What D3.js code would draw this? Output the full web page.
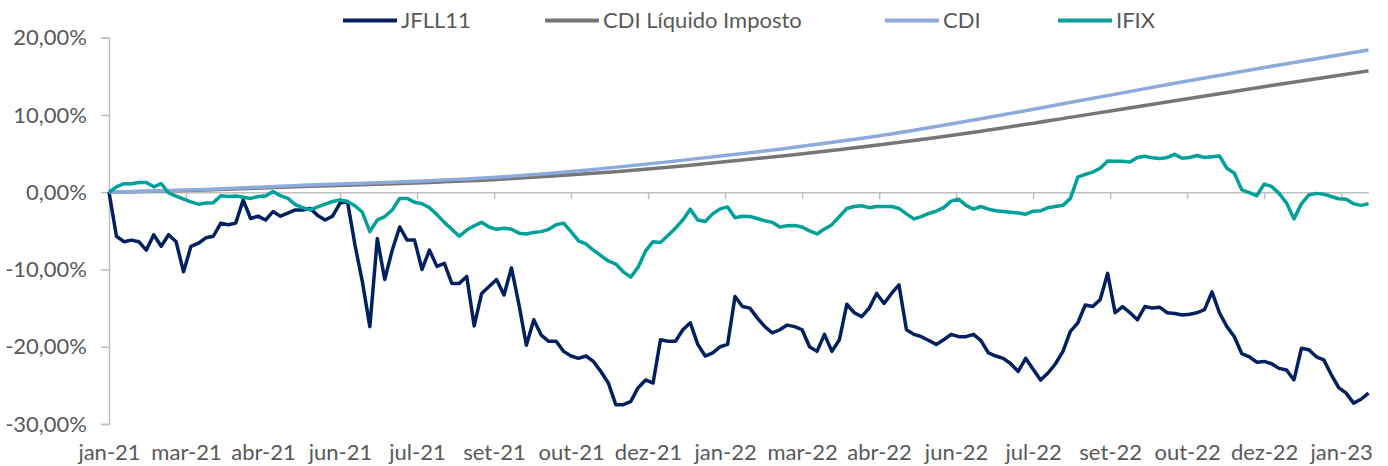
<!DOCTYPE html>
<html>
<head>
<meta charset="utf-8">
<script src="https://cdn.jsdelivr.net/npm/d3@7"></script>
<style>
  body { margin: 0; background: #fff; }
  svg { display: block; font-family: Lato, "Open Sans", sans-serif; }
</style>
</head>
<body>
<svg id="chart" width="1388" height="466"></svg>
<script>
// series names, in legend order
var seriesNames = ["JFLL11", "CDI Líquido Imposto", "CDI", "IFIX"];

// x axis labels, one every 31 trading days
var tickLabels = ["jan-21", "mar-21", "abr-21", "jun-21", "jul-21", "set-21", "out-21", "dez-21",
  "jan-22", "mar-22", "abr-22", "jun-22", "jul-22", "set-22", "out-22", "dez-22", "jan-23"];
var tickStep = 31;

// JFLL11 accumulated return (%), one value every 3 trading days
var jfllStep = 3;
var jfll11 = [
  0, -5.7, -6.4, -6.2, -6.4, -7.5, -5.5, -7.0, -5.5, -6.4,
  -10.3, -7.0, -6.6, -5.9, -5.7, -4.0, -4.2, -4.0, -1.0, -3.4,
  -3.1, -3.6, -2.5, -3.1, -2.7, -2.3, -2.3, -2.1, -3.0, -3.6,
  -3.1, -1.4, -1.2, -6.8, -11.6, -17.4, -6.0, -11.3, -7.5, -4.5,
  -6.2, -6.2, -10.0, -7.5, -9.6, -9.2, -11.8, -11.8, -10.9, -17.3,
  -13.1, -12.2, -11.3, -13.3, -9.8, -14.5, -19.8, -16.5, -18.5, -19.3,
  -19.3, -20.6, -21.2, -21.5, -21.2, -21.9, -23.2, -24.7, -27.5, -27.5,
  -27.1, -25.3, -24.3, -24.7, -19.1, -19.3, -19.3, -17.8, -16.9, -19.7,
  -21.2, -20.8, -20.0, -19.7, -13.5, -14.8, -15.0, -16.3, -17.4, -18.2,
  -17.8, -17.2, -17.4, -17.8, -20.0, -20.6, -18.4, -20.6, -19.1, -14.5,
  -15.6, -16.1, -15.0, -13.1, -14.4, -13.1, -12.0, -17.8, -18.4, -18.7,
  -19.2, -19.7, -19.1, -18.4, -18.7, -18.7, -18.4, -19.2, -20.8, -21.2,
  -21.5, -22.2, -23.2, -21.5, -22.9, -24.3, -23.4, -22.2, -20.6, -18.0,
  -16.9, -14.6, -14.8, -13.9, -10.5, -15.6, -14.8, -15.6, -16.5, -14.8,
  -15.0, -14.9, -15.6, -15.7, -15.9, -15.8, -15.6, -15.2, -12.9, -15.6,
  -17.4, -18.7, -20.9, -21.3, -22.0, -21.9, -22.2, -22.8, -23.0, -24.3,
  -20.2, -20.4, -21.3, -21.7, -23.6, -25.3, -26.0, -27.3, -26.8, -26.0
];

// IFIX accumulated return (%), same spacing
var ifixStep = 3;
var ifix = [
  0, 0.7, 1.1, 1.1, 1.25, 1.25, 0.7, 1.1, -0.1, -0.5,
  -0.9, -1.25, -1.55, -1.4, -1.35, -0.45, -0.55, -0.5, -0.65, -0.8,
  -0.55, -0.5, 0.1, -0.45, -0.8, -1.6, -2.0, -2.3, -1.9, -1.55,
  -1.2, -1.0, -1.2, -1.75, -2.6, -5.1, -3.6, -3.15, -2.3, -0.8,
  -0.8, -1.3, -1.5, -2.0, -2.9, -3.9, -4.8, -5.7, -4.9, -4.35,
  -3.9, -4.5, -4.8, -4.65, -4.8, -5.3, -5.4, -5.2, -5.1, -4.8,
  -4.2, -4.0, -5.1, -6.3, -6.7, -7.5, -8.2, -8.9, -9.3, -10.3,
  -11.0, -9.7, -7.6, -6.4, -6.5, -5.6, -4.65, -3.6, -2.2, -3.6,
  -3.8, -2.8, -2.15, -1.9, -3.3, -3.1, -3.15, -3.4, -3.7, -3.9,
  -4.5, -4.35, -4.3, -4.5, -5.0, -5.4, -4.75, -4.2, -3.15, -2.1,
  -1.85, -1.75, -2.0, -1.85, -1.85, -1.85, -2.1, -2.8, -3.45, -3.15,
  -2.75, -2.45, -2.0, -1.15, -0.9, -1.7, -2.2, -1.85, -2.2, -2.4,
  -2.5, -2.6, -2.7, -2.85, -2.45, -2.4, -2.0, -1.85, -1.7, -0.8,
  1.95, 2.3, 2.6, 3.1, 4.05, 4.0, 4.0, 3.9, 4.5, 4.65,
  4.45, 4.35, 4.5, 4.9, 4.4, 4.5, 4.75, 4.5, 4.6, 4.7,
  3.1, 2.45, 0.3, -0.05, -0.45, 1.05, 0.75, -0.15, -1.4, -3.45,
  -1.5, -0.35, -0.15, -0.25, -0.55, -0.85, -0.9, -1.5, -1.7, -1.5
];

// CDI and CDI net of tax (%), one value every 39 trading days
var cdiStep = 39;
var cdi = [0, 0.35, 0.9, 1.33, 1.95, 2.95, 4.25, 5.7, 7.4, 9.5, 11.8, 14.1, 16.3, 18.4];
var cdiLiquido = [0, 0.3, 0.75, 1.13, 1.65, 2.45, 3.5, 4.75, 6.2, 7.9, 9.85, 11.85, 13.8, 15.7];

var yTicks = [-30, -20, -10, 0, 10, 20];

var colors = {
  "JFLL11": "#002060",
  "CDI Líquido Imposto": "#767676",
  "CDI": "#8EA9DB",
  "IFIX": "#00A19A"
};

var svg = d3.select("#chart");
var lastDay = (jfll11.length - 1) * jfllStep;

var x = d3.scaleLinear()
    .domain([0, lastDay])
    .range([109, 1368.5]);

var y = d3.scaleLinear()
    .domain([-30, 20])
    .range([424, 37.7]);

function toPoints(values, step) {
  return values.map(function(v, i) { return [i * step, v]; });
}

var line = d3.line()
    .x(function(d) { return x(d[0]); })
    .y(function(d) { return y(d[1]); });

var smooth = d3.line()
    .curve(d3.curveMonotoneX)
    .x(function(d) { return x(d[0]); })
    .y(function(d) { return y(d[1]); });

var axisColor = "#BFBFBF",
    textColor = "#595959",
    fontSize = 22;

// percent with comma decimals and a plain hyphen for negatives
function pct(d) {
  return (d < 0 ? "-" : "") + d3.format(".2f")(Math.abs(d)).replace(".", ",") + "%";
}

// y axis
var yAxis = svg.append("g")
    .attr("transform", "translate(" + x(0) + ",0)")
    .call(d3.axisLeft(y).tickValues(yTicks).tickSize(8).tickPadding(14).tickFormat(pct));
yAxis.select(".domain").attr("stroke", axisColor).attr("stroke-width", 1.5);
yAxis.selectAll(".tick line").attr("stroke", axisColor).attr("stroke-width", 1.5);
yAxis.selectAll("text")
    .attr("fill", textColor)
    .attr("font-size", fontSize)
    .attr("font-family", "Lato, sans-serif");

// x axis sits on the zero line
var xTickValues = tickLabels.map(function(d, i) { return i * tickStep; });
var xAxis = svg.append("g")
    .attr("transform", "translate(0," + y(0) + ")")
    .call(d3.axisBottom(x).tickValues(xTickValues).tickSize(7).tickSizeOuter(0)
      .tickFormat(function(d, i) { return tickLabels[i]; }));
xAxis.select(".domain").attr("stroke", axisColor).attr("stroke-width", 1.5);
xAxis.selectAll(".tick line").attr("stroke", axisColor).attr("stroke-width", 1.5);
xAxis.selectAll("text")
    .attr("fill", textColor)
    .attr("font-size", fontSize)
    .attr("font-family", "Lato, sans-serif")
    .attr("y", 460 - y(0))
    .attr("dy", 0);

// lines, drawn in legend order
var series = [
  {name: "JFLL11", pts: toPoints(jfll11, jfllStep), gen: line},
  {name: "CDI Líquido Imposto", pts: toPoints(cdiLiquido, cdiStep), gen: smooth},
  {name: "CDI", pts: toPoints(cdi, cdiStep), gen: smooth},
  {name: "IFIX", pts: toPoints(ifix, ifixStep), gen: line}
];

svg.append("g")
  .selectAll("path")
  .data(series)
  .enter().append("path")
    .attr("fill", "none")
    .attr("stroke", function(d) { return colors[d.name]; })
    .attr("stroke-width", 3.5)
    .attr("stroke-linejoin", "round")
    .attr("d", function(d) { return d.gen(d.pts); });

// legend across the top
var legendX = [343, 545, 885, 1058];
var legend = svg.append("g")
  .selectAll("g")
  .data(seriesNames)
  .enter().append("g")
    .attr("transform", function(d, i) { return "translate(" + legendX[i] + ",20.5)"; });

legend.append("line")
    .attr("x1", 0)
    .attr("x2", 54)
    .attr("stroke", function(d) { return colors[d]; })
    .attr("stroke-width", 4);

legend.append("text")
    .attr("x", 58)
    .attr("dy", "0.35em")
    .attr("fill", textColor)
    .attr("font-size", fontSize)
    .text(function(d) { return d; });
</script>
</body>
</html>
